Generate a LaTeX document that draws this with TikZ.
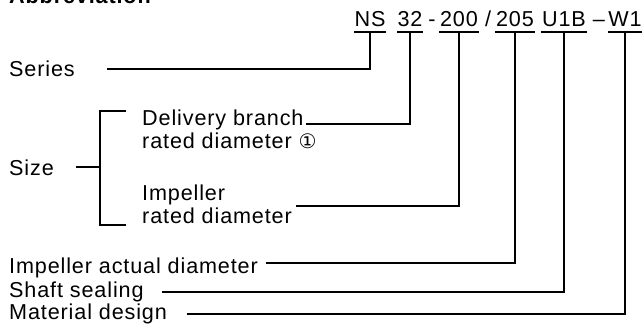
\documentclass[tikz,border=0pt]{standalone}
\usepackage{fontspec}
\setmainfont{Liberation Sans}[LetterSpace=4]
\newfontfamily\symfont{DejaVu Sans}
\begin{document}
\begin{tikzpicture}[x=1pt,y=-1pt,
  every node/.style={inner sep=0pt, font=\fontsize{21.6}{24}\selectfont},
  lbl/.style={anchor=base west},
  code/.style={anchor=base},
  ln/.style={line width=1.2pt, line cap=rect}]
\useasboundingbox (0,0) rectangle (643,324);
% title (cut off at top)
\node[lbl, font=\fontsize{21.6}{24}\selectfont\bfseries] (abbr) at (9,3) {Abbreviation};
% code
\node[code] (ns) at (370,26) {NS};
\node[code] (c32) at (410,26) {32};
\node[code] (sepa) at (432,26) {-};
\node[code] (c200) at (459,26) {200};
\node[code] (sepb) at (488,26) {/};
\node[code] (c205) at (515,26) {205};
\node[code] (u1b) at (564,26) {U1B};
\node[code] (sepc) at (599,26) {--};
\node[code] (w1) at (625,26) {W1};
\foreach \c in {ns,c32,c200,c205,u1b,w1}
  \draw[ln] ([yshift=-6pt]\c.base west) -- ([yshift=-6pt]\c.base east);
% labels
\node[lbl] (series) at (9,76) {Series};
\node[lbl] (size) at (9,175) {Size};
\node[lbl] (dela) at (142,125) {Delivery branch};
\node[lbl] (delb) at (142,148) {rated diameter {\symfont\fontsize{20}{22}\selectfont ①}};
\node[lbl] (impa) at (142,200) {Impeller};
\node[lbl] (impb) at (142,223) {rated diameter};
\node[lbl] (act) at (9,273) {Impeller actual diameter};
\node[lbl] (shaft) at (9,297) {Shaft sealing};
\node[lbl] (mat) at (9,319) {Material design};
% line starts
\coordinate (sS) at (108,69);
\coordinate (sD) at (307,124);
\coordinate (sI) at (297,206);
\coordinate (sA) at (267,263);
\coordinate (sH) at (163,292);
\coordinate (sM) at (188,314);
\coordinate (sZ) at (77,167);
\coordinate (bZ) at (100,167);
% connectors
\draw[ln] (sS) -| ([yshift=-6pt]ns.base);
\draw[ln] (sD) -| ([yshift=-6pt]c32.base);
\draw[ln] (sI) -| ([yshift=-6pt]c200.base);
\draw[ln] (sA) -| ([yshift=-6pt]c205.base);
\draw[ln] (sH) -| ([yshift=-6pt]u1b.base);
\draw[ln] (sM) -| ([yshift=-6pt]w1.base);
% bracket
\draw[ln] (125,111) -- (100,111) -- (100,225) -- (125,225);
\draw[ln] (sZ) -- (bZ);
\end{tikzpicture}
\end{document}
